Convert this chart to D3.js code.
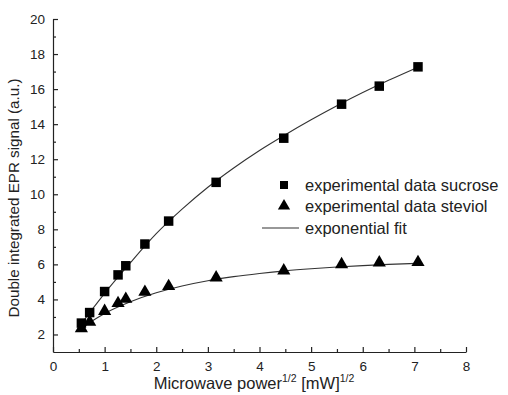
<!DOCTYPE html>
<html>
<head>
<meta charset="utf-8">
<script src="https://cdn.jsdelivr.net/npm/d3@7"></script>
<style>
  html, body { margin: 0; padding: 0; background: #fff; }
  svg { display: block; font-family: Arial, "Liberation Sans", sans-serif; }
</style>
</head>
<body>
<svg id="chart" width="508" height="395"></svg>
<script>
// sqrt of microwave power, (mW)^1/2
const powerSqrt = [0.55, 0.71, 1.0, 1.26, 1.41, 1.78, 2.24, 3.16, 4.47, 5.59, 6.32, 7.07];
const sucrose = [2.65, 3.25, 4.45, 5.4, 5.92, 7.16, 8.47, 10.68, 13.2, 15.14, 16.17, 17.27];
const steviol = [2.35, 2.72, 3.33, 3.78, 4.02, 4.42, 4.75, 5.24, 5.64, 6.0, 6.1, 6.12];

// exponential fit curves
const fitX = [0.5, 0.75, 1.0, 1.5, 2.0, 2.5, 3.0, 3.5, 4.0, 4.5, 5.0, 5.5, 6.0, 6.5, 7.07];
const fitSucrose = [2.42, 3.4, 4.35, 6.1, 7.75, 9.15, 10.4, 11.5, 12.5, 13.4, 14.25, 15.05, 15.8, 16.5, 17.25];
const fitSteviol = [2.22, 2.75, 3.2, 3.87, 4.38, 4.77, 5.07, 5.3, 5.48, 5.63, 5.75, 5.85, 5.93, 6.0, 6.06];

const xTicks = [0, 1, 2, 3, 4, 5, 6, 7, 8];
const yTicks = [2, 4, 6, 8, 10, 12, 14, 16, 18, 20];
const legendLabels = ["experimental data sucrose", "experimental data steviol", "exponential fit"];

const svg = d3.select("#chart");
const plotLeft = 53, plotRight = 466, plotTop = 19, plotBottom = 352;

const x = d3.scaleLinear().domain([0, 8]).range([plotLeft, plotRight]);
const y = d3.scaleLinear().domain([1, 20]).range([plotBottom, plotTop]);

// minor ticks
svg.append("g")
  .attr("transform", `translate(0,${plotBottom})`)
  .call(d3.axisBottom(x).tickValues(d3.range(0.5, 8, 1)).tickSize(-3).tickSizeOuter(0).tickFormat(""))
  .call(g => g.select(".domain").remove());
svg.append("g")
  .attr("transform", `translate(${plotLeft},0)`)
  .call(d3.axisLeft(y).tickValues(d3.range(3, 20, 2)).tickSize(-3).tickSizeOuter(0).tickFormat(""))
  .call(g => g.select(".domain").remove());

// major axes
svg.append("g")
  .attr("transform", `translate(0,${plotBottom})`)
  .call(d3.axisBottom(x).tickValues(xTicks).tickSize(-5).tickSizeOuter(0).tickPadding(9));
svg.append("g")
  .attr("transform", `translate(${plotLeft},0)`)
  .call(d3.axisLeft(y).tickValues(yTicks).tickSize(-5).tickSizeOuter(0).tickPadding(8));

svg.selectAll(".tick line, .domain").attr("stroke", "#222").attr("stroke-width", 1.2);
svg.selectAll(".tick text").attr("font-size", 13.5).attr("fill", "#222").attr("font-family", "Arial, 'Liberation Sans', sans-serif");

// axis titles
const xTitle = svg.append("text")
  .attr("x", 254).attr("y", 389)
  .attr("text-anchor", "middle")
  .attr("font-size", 16.5).attr("fill", "#222");
xTitle.append("tspan").text("Microwave power");
xTitle.append("tspan").attr("font-size", 10.5).attr("dy", -7).text("1/2");
xTitle.append("tspan").attr("dy", 7).text(" [mW]");
xTitle.append("tspan").attr("font-size", 10.5).attr("dy", -7).text("1/2");

svg.append("text")
  .attr("transform", "translate(19,198) rotate(-90)")
  .attr("text-anchor", "middle")
  .attr("font-size", 15.2).attr("fill", "#222")
  .text("Double integrated EPR signal (a.u.)");

// fit lines
const line = d3.line().x(d => x(d[0])).y(d => y(d[1])).curve(d3.curveMonotoneX);
[fitSucrose, fitSteviol].forEach(vals => {
  svg.append("path")
    .datum(fitX.map((v, i) => [v, vals[i]]))
    .attr("d", line)
    .attr("fill", "none")
    .attr("stroke", "#333")
    .attr("stroke-width", 1.1);
});

// markers
const square = d3.symbol().type(d3.symbolSquare).size(90);
const triangle = d3.symbol().type(d3.symbolTriangle).size(75);

svg.append("g").selectAll("path")
  .data(powerSqrt.map((v, i) => [v, sucrose[i]]))
  .join("path")
  .attr("d", square)
  .attr("transform", d => `translate(${x(d[0])},${y(d[1])})`)
  .attr("fill", "#000");

svg.append("g").selectAll("path")
  .data(powerSqrt.map((v, i) => [v, steviol[i]]))
  .join("path")
  .attr("d", triangle)
  .attr("transform", d => `translate(${x(d[0])},${y(d[1])})`)
  .attr("fill", "#000");

// legend
const legend = svg.append("g");
legend.append("path").attr("d", d3.symbol().type(d3.symbolSquare).size(64))
  .attr("transform", "translate(284,185)").attr("fill", "#000");
legend.append("path").attr("d", d3.symbol().type(d3.symbolTriangle).size(65))
  .attr("transform", "translate(284,206)").attr("fill", "#000");
legend.append("line").attr("x1", 262).attr("x2", 299).attr("y1", 228).attr("y2", 228)
  .attr("stroke", "#333").attr("stroke-width", 1.1);
legendLabels.forEach((t, i) => {
  legend.append("text")
    .attr("x", 305).attr("y", 185 + i * 21.5)
    .attr("dy", "0.35em")
    .attr("font-size", 16.5).attr("fill", "#222")
    .text(t);
});
</script>
</body>
</html>
